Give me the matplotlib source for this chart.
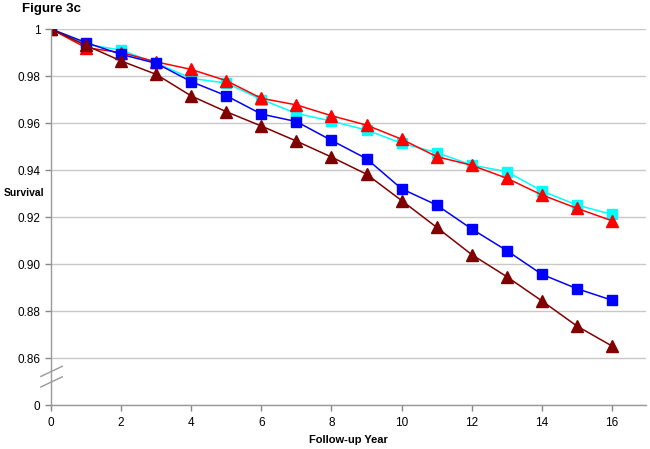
import matplotlib
matplotlib.use("Agg")
import matplotlib.pyplot as plt
from matplotlib.lines import Line2D

plt.rcParams["font.family"] = ["Liberation Sans", "DejaVu Sans"]

# ─── Data ───────────────────────────────────────────────────────────────────────
years = list(range(17))

cyan_sq = [1.000, 0.9935, 0.991, 0.9855, 0.979, 0.977, 0.970, 0.9641, 0.9608, 0.957,
           0.9514, 0.9474, 0.9421, 0.9393, 0.9311, 0.9251, 0.9211]
red_tri = [1.000, 0.992, 0.990, 0.986, 0.9828, 0.978, 0.9705, 0.9677, 0.9631, 0.9591,
           0.9531, 0.9457, 0.942, 0.9365, 0.9294, 0.9237, 0.9184]
blue_sq = [1.000, 0.9942, 0.9892, 0.9854, 0.9776, 0.9716, 0.9638, 0.9606, 0.9526, 0.9448,
           0.9320, 0.9251, 0.9149, 0.9057, 0.8956, 0.8895, 0.8846]
dkred_tri = [1.000, 0.993, 0.9864, 0.9807, 0.9715, 0.9648, 0.9587, 0.9523, 0.9455, 0.9382,
             0.9270, 0.9156, 0.9040, 0.8946, 0.8843, 0.8736, 0.8651]

# y axis is broken: the bottom tick stands for 0
ytick_vals = [0.84, 0.86, 0.88, 0.90, 0.92, 0.94, 0.96, 0.98, 1.00]
ytick_labels = ["0", "0.86", "0.88", "0.90", "0.92", "0.94", "0.96", "0.98", "1"]
xtick_vals = list(range(0, 17, 2))

# ─── Plot ───────────────────────────────────────────────────────────────────────
fig = plt.figure(figsize=(6.5, 4.49), dpi=100)
W, H = 650, 449
ax = fig.add_axes([51 / W, (H - 405) / H, 595 / W, 376 / H])

series = [
    (cyan_sq, "#00FFFF", "s"),
    (red_tri, "#FF0000", "^"),
    (blue_sq, "#0000FF", "s"),
    (dkred_tri, "#800000", "^"),
]
for vals, c, mk in series:
    ax.plot(years, vals, color=c, lw=1.1, marker=mk, ms=7.5 if mk == "s" else 8,
            mfc=c, mec=c, zorder=3)

ax.set_xlim(0, 16.97)
ax.set_ylim(0.84, 1.0)
ax.set_xticks(xtick_vals)
ax.set_yticks(ytick_vals)
ax.set_yticklabels(ytick_labels)
ax.tick_params(axis="both", labelsize=8.5, colors="#888888", labelcolor="black",
               length=4, width=1, direction="out")
ax.tick_params(axis="x", pad=5)

for s in ["top", "right"]:
    ax.spines[s].set_visible(False)
for s in ["left", "bottom"]:
    ax.spines[s].set_color("#999999")
    ax.spines[s].set_linewidth(1)
    ax.spines[s].set_zorder(4)

ax.grid(axis="y", color="#c8c8c8", lw=1)
ax.set_axisbelow(True)

# axis-break marks on the y axis
tr = ax.transAxes
for dy in (0.0, 0.028):
    ax.add_line(Line2D([-0.017, 0.019], [0.076 - dy, 0.103 - dy], transform=tr,
                       color="#999999", lw=1, clip_on=False, zorder=5))

fig.text(22 / W, 1 - 9 / H, "Figure 3c", fontsize=9.5, fontweight="bold",
         ha="left", va="center")
fig.text(24 / W, 1 - 193 / H, "Survival", fontsize=7.5, fontweight="bold",
         ha="center", va="center")
fig.text(348 / W, 1 - 440 / H, "Follow-up Year", fontsize=8, fontweight="bold",
         ha="center", va="center")

fig.savefig("out.png", dpi=100)
